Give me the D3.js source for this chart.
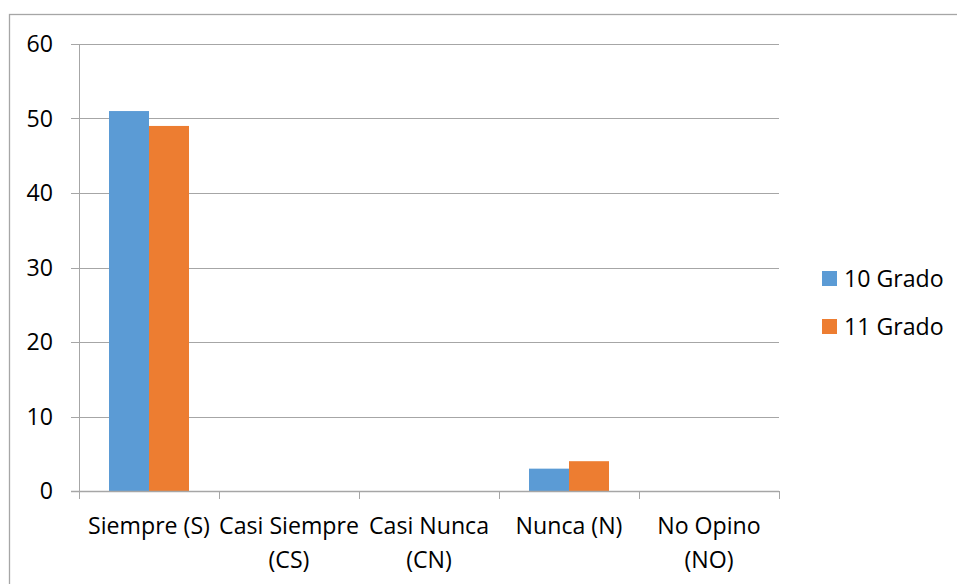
<!DOCTYPE html>
<html><head><meta charset="utf-8">
<script src="https://cdn.jsdelivr.net/npm/d3@7"></script>
<style>html,body{margin:0;padding:0;background:#fff;}svg{display:block;}</style>
</head><body>
<svg id="c" width="957" height="584"></svg>
<script>
const categories = [["Siempre (S)"], ["Casi Siempre", "(CS)"], ["Casi Nunca", "(CN)"], ["Nunca (N)"], ["No Opino", "(NO)"]];
const seriesNames = ["10 Grado", "11 Grado"];
const grado10 = [51, 0, 0, 3, 0];
const grado11 = [49, 0, 0, 4, 0];
const colors = ["#5B9BD5", "#ED7D31"];
const yTicks = [0, 10, 20, 30, 40, 50, 60];

const font = "'Open Sans', sans-serif";
const svg = d3.select("#c");
const W = 957, H = 584;

// fit font size so "Siempre (S)" is ~122px wide as in the reference
const probe = svg.append("text").attr("font-family", font).attr("font-size", 20).text("Siempre (S)");
const fs = 20 * 122 / probe.node().getComputedTextLength();
probe.remove();

svg.append("rect").attr("x", 9.5).attr("y", 14.5).attr("width", W).attr("height", H)
  .attr("fill", "#fff").attr("stroke", "#a6a6a6").attr("stroke-width", 1.3);

const L = 79, R = 779, T = 44, B = 491;
const x = d3.scaleBand().domain(d3.range(categories.length)).range([L, R]).paddingInner(0).paddingOuter(0);
const y = d3.scaleLinear().domain([0, 60]).range([B, T]);
const inner = d3.scaleBand().domain([0, 1]).range([0, x.bandwidth()]).paddingInner(0).paddingOuter(0.75);

// gridlines
svg.append("g").selectAll("line").data(yTicks.filter(d => d > 0)).join("line")
  .attr("x1", L - 8).attr("x2", R).attr("y1", d => Math.round(y(d)) + 0.5).attr("y2", d => Math.round(y(d)) + 0.5)
  .attr("stroke", "#a6a6a6").attr("stroke-width", 1);

// bars
const series = [grado10, grado11];
series.forEach((vals, si) => {
  svg.append("g").selectAll("rect").data(vals.map((v, i) => ({v, i}))).join("rect")
    .attr("x", d => x(d.i) + inner(si))
    .attr("width", inner.bandwidth())
    .attr("y", d => y(d.v))
    .attr("height", d => y(0) - y(d.v))
    .attr("fill", colors[si]);
});

// y axis line
svg.append("line").attr("x1", L + 0.5).attr("x2", L + 0.5).attr("y1", T).attr("y2", B)
  .attr("stroke", "#a6a6a6").attr("stroke-width", 1);
// x axis line and ticks
svg.append("line").attr("x1", L - 8).attr("x2", R).attr("y1", B + 0.5).attr("y2", B + 0.5)
  .attr("stroke", "#a6a6a6").attr("stroke-width", 1.3);
const xt = d3.range(categories.length + 1).map(i => i === categories.length ? R : x(i));
svg.append("g").selectAll("line").data(xt).join("line")
  .attr("x1", d => d + 0.5).attr("x2", d => d + 0.5).attr("y1", B).attr("y2", B + 8)
  .attr("stroke", "#a6a6a6").attr("stroke-width", 1);

// y labels
svg.append("g").selectAll("text").data(yTicks).join("text")
  .attr("x", 53).attr("y", d => y(d)).attr("dy", "0.35em")
  .attr("text-anchor", "end").attr("font-family", font).attr("font-size", fs).attr("fill", "#000")
  .text(d => d);

// x labels
const xl = svg.append("g").selectAll("text").data(categories).join("text")
  .attr("text-anchor", "middle").attr("font-family", font).attr("font-size", fs).attr("fill", "#000")
  .attr("x", (d, i) => x(i) + x.bandwidth() / 2).attr("y", 534);
xl.selectAll("tspan").data(d => d).join("tspan")
  .attr("x", function() { return d3.select(this.parentNode).attr("x"); })
  .attr("dy", (d, j) => j === 0 ? 0 : 34)
  .text(d => d);

// legend
const lg = svg.append("g").selectAll("g").data(seriesNames).join("g")
  .attr("transform", (d, i) => `translate(822,${271 + i * 48})`);
lg.append("rect").attr("width", 15).attr("height", 15).attr("fill", (d, i) => colors[i]);
lg.append("text").attr("x", 22).attr("y", 7.5).attr("dy", "0.35em")
  .attr("font-family", font).attr("font-size", fs).attr("fill", "#000").text(d => d);
</script>
</body></html>
